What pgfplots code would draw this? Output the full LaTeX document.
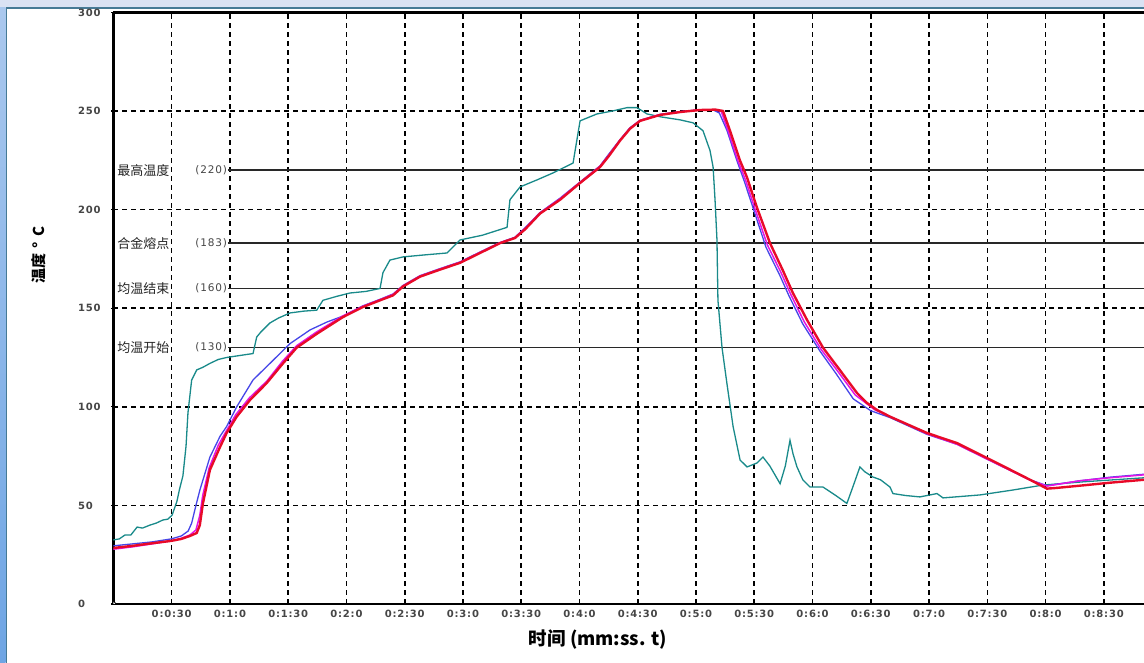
\documentclass[border=0pt]{standalone}
\usepackage{fontspec}
\setmainfont{DejaVu Sans}
\newfontfamily\tickfont{DejaVu Sans}[LetterSpace=8]
\newfontfamily\cjk{Noto Sans CJK SC}
\usepackage{pgfplots}
\pgfplotsset{compat=1.18}
\definecolor{cteal}{RGB}{25,138,138}
\definecolor{cblue}{RGB}{70,70,232}
\definecolor{cmag}{RGB}{228,20,228}
\definecolor{cred}{RGB}{232,10,40}
\definecolor{tickgray}{RGB}{70,70,70}
\definecolor{framelav}{RGB}{218,226,243}
\definecolor{frameline}{RGB}{70,122,150}
\definecolor{stripA}{RGB}{170,200,238}
\definecolor{stripB}{RGB}{110,165,228}
\definecolor{thr}{RGB}{40,40,40}

\begin{document}
\begin{tikzpicture}[x=1pt,y=1pt]
\useasboundingbox (0,0) rectangle (1144,663);
\fill[white] (0,0) rectangle (1144,663);
\fill[framelav] (0,655) rectangle (1144,663);
\shade[top color=stripA, bottom color=stripB] (0,0) rectangle (5.6,655);
\draw[frameline, line width=1.6pt] (6.4,0) -- (6.4,655.2) -- (1144,655.2);

\begin{axis}[
  at={(113.4pt,59pt)}, anchor=south west,
  scale only axis, width=1030.6pt, height=591.6pt,
  xmin=0, xmax=530.7, ymin=0, ymax=300,
  axis x line=box, axis y line=left,
  x axis line style={line width=2.4pt, -},
  y axis line style={line width=3pt, -},
  xtick={30,60,...,510},
  xticklabels={0:0:30,0:1:0,0:1:30,0:2:0,0:2:30,0:3:0,0:3:30,0:4:0,0:4:30,0:5:0,0:5:30,0:6:0,0:6:30,0:7:0,0:7:30,0:8:0,0:8:30},
  ytick={0,50,...,300},
  yticklabels={0,50,100,150,200,250,300},
  xtick pos=left, ytick pos=left,
  grid=major,
  major grid style={black, line width=1.6pt, dash pattern=on 5pt off 4pt},
  major tick length=4pt,
  tick style={black, line width=1.2pt},
  ticklabel style={font=\tickfont\bfseries\fontsize{10}{11}\selectfont, text=tickgray},
  xticklabel style={yshift=-2.5pt},
  yticklabel style={anchor=west, inner sep=0pt, xshift=-33.4pt},
]
% threshold lines
\addplot[thr, line width=1.6pt] coordinates {(59,220) (531,220)};
\addplot[thr, line width=1.6pt] coordinates {(59,183) (531,183)};
\addplot[thr, line width=1.6pt] coordinates {(59,160) (531,160)};
\addplot[thr, line width=1.6pt] coordinates {(59,130) (531,130)};

% teal
\addplot[cteal, line width=1.3pt] coordinates {
(0,32.5)(3,33)(6,35)(9,35)(12.2,39)(15,38.5)(18.8,40)(22,41)(25.5,42.6)(28,43)(30.2,45)(32.7,52)(34,58)(35.8,65)(37.4,80)(38.4,97)(40.3,113.6)(42.9,118.7)(46,120)(49.7,122)(54,124)(58.3,125)(65,126)(71.9,127)(73.8,135.4)(76,138)(80.6,142.5)(85,145)(91.0,147.6)(98,148.5)(104.7,149)(107.9,154)(115,156)(121.8,157.7)(130,158.5)(137.3,160)(138.8,168)(142.4,174.4)(149.1,176)(160,177)(171.8,178)(178.5,184.6)(190,187)(202.7,191)(204.2,205)(209.4,211.5)(218,215)(226.4,218.6)(236.7,223.6)(240.3,245)(249.0,248.5)(257,250)(264.5,251.7)(269.6,251.7)(274.8,248.5)(282,247)(291.8,245.5)(298.5,244)(303.6,240)(307.2,230)(308.8,221.6)(309.8,205)(310.8,184.6)(311.3,154)(313.4,130)(315.9,112)(319.1,90)(322.7,73)(326.3,69.5)(331.4,71.5)(334.5,74.5)(338,70)(343.3,61)(346,70)(348.4,83)(350,76)(352.0,69.5)(355,63)(358.7,59.3)(365.4,59.3)(372,55)(377.7,51)(381,60)(384.4,69.5)(387,67)(391.1,64.4)(395,63)(399.9,59.3)(401.4,56)(408,55)(415.3,54.3)(424.1,56)(427.2,53.8)(446.2,55.3)(463.2,57.8)(478.6,60.3)(500,62)(530.7,64)};

% blue
\addplot[cblue, line width=1.3pt] coordinates {
(0,29.5)(10,30.5)(20,31.5)(29.7,33)(35,34.5)(38.5,37)(40.3,41)(42.5,50)(44.6,58)(49.7,74.5)(54.9,85)(58.3,90)(63.5,100)(71.9,113.6)(80.6,122)(90.9,132)(101.3,139)(110,143)(118.2,146)(128.5,151.2)(137.3,154.5)(144,157.2)(149.1,161.5)(157.9,166.5)(168,170)(178.5,173.5)(188.8,178.5)(199.1,183.3)(206.8,186)(212,190.8)(219.7,198.5)(230,205.8)(240.3,214)(250.6,222.2)(255,228)(260.9,235.5)(266,241.5)(271.2,245.3)(281.5,248.3)(292,249.7)(302,250.6)(309,250.5)(312,249)(316,240)(321,225)(325,214)(330,199)(336,181)(343,167)(348,156)(355,142)(364,128)(372,117)(381,104)(390,98)(400,94.5)(419,86)(434.4,81)(455,71)(472,63)(480.7,60)(497.7,62.5)(513.1,64.3)(530.7,65.8)};

% magenta
\addplot[cmag, line width=1.5pt] coordinates {
(0,27.8)(10,29)(20,30.5)(29.7,32)(35,33.3)(39.4,35)(42.5,37.5)(44.5,45)(46,55)(49.3,69)(54,80.5)(58,87.5)(63,96)(70,104.5)(79,113)(87,123)(94.4,131)(104.7,138)(118,146)(128.5,151)(137.3,154.3)(144,157)(149.1,161.3)(157.9,166.3)(168,169.8)(178.5,173.3)(188.8,178.3)(199.1,183.2)(206.8,185.8)(212,190.5)(219.7,198.3)(230,205.5)(240.3,213.8)(250.6,222)(255,227.5)(260.9,235.3)(266,241.3)(271.2,245.2)(281.5,248.2)(292,249.6)(302,250.6)(310,250.6)(313,249.8)(316.5,240)(321.5,225)(325.5,215)(330.5,200)(336.8,182)(343.8,168)(348.8,157)(355.8,143)(364.5,129)(373,118)(382,106)(392,98.5)(400,95)(419,86.3)(434.4,81)(455,71)(472,62.8)(480.7,59.8)(497.7,62.5)(513.1,64)(530.7,65.5)};

% red
\addplot[cred, line width=2.4pt] coordinates {
(0,28.4)(10,29.5)(20,30.8)(29.7,32)(35,33)(39.4,34.5)(42.9,36)(44.5,40)(46.1,51)(49.7,68)(54.9,79.6)(58.3,86.7)(63.5,95)(70.3,103.4)(78.9,112)(87.3,122)(94.4,130)(104.7,137)(118.2,145.5)(128.5,150.6)(137.3,154)(144,156.5)(149.1,161)(157.9,166)(168,169.5)(178.5,173)(188.8,178)(199.1,183)(206.8,185.6)(212,190)(219.7,198)(230,205)(240.3,213.5)(250.6,221.6)(255,227)(260.9,235)(266,241)(271.2,245)(281.5,248)(292,249.5)(302,250.5)(310,250.7)(313.9,250)(317.5,240)(322.6,225)(326.2,216.5)(331.4,201)(338.1,183)(344.8,169)(349.9,157.7)(357.2,144)(365.4,130)(374.1,118.6)(382.9,107)(388,102)(393.2,98.4)(399.9,95)(419,86.7)(434.4,81.6)(455,71.5)(472,63)(480.7,58.5)(485,58.8)(497.7,60)(513.1,61.5)(530.7,63)};

% threshold labels
\node[anchor=west, inner sep=0pt, font=\cjk\fontsize{13}{13}\selectfont, text=black!85] at (axis cs:1.9,220) {最高温度};
\node[anchor=west, inner sep=0pt, font=\cjk\fontsize{13}{13}\selectfont, text=black!85] at (axis cs:1.9,183) {合金熔点};
\node[anchor=west, inner sep=0pt, font=\cjk\fontsize{13}{13}\selectfont, text=black!85] at (axis cs:1.9,160) {均温结束};
\node[anchor=west, inner sep=0pt, font=\cjk\fontsize{13}{13}\selectfont, text=black!85] at (axis cs:1.9,130) {均温开始};
\node[anchor=east, inner sep=0pt, font=\tickfont\fontsize{10.5}{11}\selectfont, text=tickgray] at (axis cs:58.6,220) {(220)};
\node[anchor=east, inner sep=0pt, font=\tickfont\fontsize{10.5}{11}\selectfont, text=tickgray] at (axis cs:58.6,183) {(183)};
\node[anchor=east, inner sep=0pt, font=\tickfont\fontsize{10.5}{11}\selectfont, text=tickgray] at (axis cs:58.6,160) {(160)};
\node[anchor=east, inner sep=0pt, font=\tickfont\fontsize{10.5}{11}\selectfont, text=tickgray] at (axis cs:58.6,130) {(130)};
\draw[black, fill=white, line width=0.8pt] (axis cs:0,0) circle (2.2pt);
\end{axis}

\node[rotate=90, font=\cjk\bfseries\fontsize{15}{15}\selectfont] at (39,408) {温度\,\,°\,\,C};
\node[font=\cjk\bfseries\fontsize{18.5}{19}\selectfont] at (598,23) {时间 (mm:ss. t)};
\end{tikzpicture}
\end{document}
